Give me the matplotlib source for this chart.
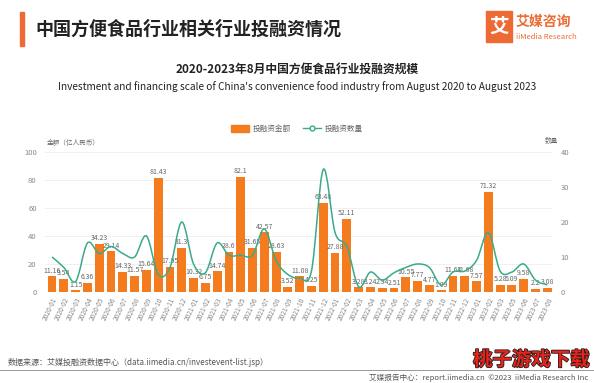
import numpy as np
import matplotlib.pyplot as plt
from matplotlib.path import Path
from matplotlib.patches import PathPatch, Rectangle
from matplotlib.lines import Line2D
import matplotlib.patheffects as pe

plt.rcParams['font.family'] = ['Noto Sans CJK SC', 'DejaVu Sans']

# Data
months = ["2020-01", "2020-02", "2020-03", "2020-04", "2020-05", "2020-06", "2020-07",
          "2020-08", "2020-09", "2020-10", "2020-11", "2020-12", "2021-01", "2021-02",
          "2021-03", "2021-04", "2021-05", "2021-06", "2021-07", "2021-08", "2021-09",
          "2021-10", "2021-11", "2021-12", "2022-01", "2022-02", "2022-03", "2022-04",
          "2022-05", "2022-06", "2022-07", "2022-08", "2022-09", "2022-10", "2022-11",
          "2022-12", "2023-01", "2023-02", "2023-03", "2023-05", "2023-06", "2023-07",
          "2023-08"]
amount = [11.16, 9.54, 1.15, 6.36, 34.23, 29.14, 14.33, 11.57, 15.64, 81.43, 17.95, 31.3,
          10.32, 6.75, 14.74, 28.6, 82.1, 31.65, 42.57, 28.63, 3.52, 11.08, 4.25, 63.48,
          27.88, 52.11, 3.28, 3.24, 2.94, 2.51, 10.55, 7.77, 4.77, 1.09, 11.64, 11.68,
          7.57, 71.32, 5.28, 5.09, 9.58, 2.2, 3.08]
count = [10, 7, 3, 14, 11, 13, 11, 10, 16, 5, 7, 20, 8, 5.5, 14, 10.5, 10.5, 10.5, 18,
         9, 5, 4, 6, 35, 17, 13, 1.5, 5.7, 3.4, 5.5, 7, 8, 7, 2, 5.7, 6, 9, 17, 6, 5.7,
         8, 3.4, 2]

ORANGE = "#F57B1F"
GREEN = "#3AAA8C"
GREY = "#888888"

fig = plt.figure(figsize=(5.94, 3.83), dpi=100)

# Header
fig.add_artist(Rectangle((20 / 594, 1 - 46 / 383), 3.5 / 594, 34 / 383,
                         transform=fig.transFigure, color="#EE6A35"))
fig.text(35 / 594, 1 - 29 / 383, "中国方便食品行业相关行业投融资情况", fontsize=13,
         fontweight="bold", color="#222222", va="center")
fig.add_artist(Rectangle((486 / 594, 1 - 42 / 383), 26 / 594, 31 / 383,
                         transform=fig.transFigure, color="#EE6A35"))
fig.text(499 / 594, 1 - 27 / 383, "艾", fontsize=14, fontweight="bold", color="white",
         ha="center", va="center")
fig.text(516 / 594, 1 - 22 / 383, "艾媒咨询", fontsize=10, fontweight="bold",
         color="#EE6A35", va="center")
fig.text(516 / 594, 1 - 37 / 383, "iiMedia Research", fontsize=5.5, color="#EE6A35",
         va="center")

fig.text(0.5, 1 - 70 / 383, "2020-2023年8月中国方便食品行业投融资规模", fontsize=8.5,
         fontweight="bold", color="#222222", ha="center", va="center")
fig.text(0.5, 1 - 87 / 383,
         "Investment and financing scale of China's convenience food industry from August 2020 to August 2023",
         fontsize=7.3, color="#222222", ha="center", va="center")

# Axes
ax = fig.add_axes([45 / 594, 1 - 292 / 383, 507 / 594, 140 / 383])
x = np.arange(len(months))
ax.bar(x, amount, width=0.75, color=ORANGE, zorder=2)
for xi, v in zip(x, amount):
    ax.text(xi, v + 1.2, f"{v:g}", fontsize=5, color="#666666", ha="center", va="bottom")

ax.set_xlim(-0.6, len(months) - 0.6)
ax.set_ylim(0, 100)
ax.set_yticks(range(0, 101, 20))
ax.grid(axis="y", color="#EEEEEE", linewidth=0.6, zorder=0)
ax.set_xticks(x)
ax.set_xticklabels(months, rotation=65, fontsize=4.8, color=GREY, ha="right",
                   rotation_mode="anchor")
ax.tick_params(axis="y", labelsize=5.5, labelcolor=GREY, length=0, pad=6)
ax.tick_params(axis="x", length=0, pad=3)
for s in ax.spines.values():
    s.set_visible(False)
ax.text(0.004, 1.035, "金额（亿人民币）", transform=ax.transAxes, fontsize=4.8,
        color="#666666", va="bottom")

ax2 = ax.twinx()
ax2.set_ylim(0, 40)
ax2.set_yticks(range(0, 41, 10))
ax2.tick_params(axis="y", labelsize=5.5, labelcolor=GREY, length=0, pad=6)
for s in ax2.spines.values():
    s.set_visible(False)
ax2.text(0.985, 1.05, "数量", transform=ax2.transAxes, fontsize=4.8,
         color="#666666", va="bottom")

# smooth line through the count points (cubic bezier segments)
pts = np.column_stack([x, count]).astype(float)
tang = np.zeros_like(pts)
tang[1:-1] = (pts[2:] - pts[:-2]) / 2
tang[0] = pts[1] - pts[0]
tang[-1] = pts[-1] - pts[-2]
verts = [tuple(pts[0])]
codes = [Path.MOVETO]
for i in range(len(pts) - 1):
    verts += [tuple(pts[i] + tang[i] / 3), tuple(pts[i + 1] - tang[i + 1] / 3),
              tuple(pts[i + 1])]
    codes += [Path.CURVE4] * 3
ax2.add_patch(PathPatch(Path(verts, codes), fill=False, edgecolor=GREEN,
                        linewidth=1.1, zorder=3))

# Legend
handles = [Rectangle((0, 0), 1, 1, color=ORANGE),
           Line2D([0], [0], color=GREEN, marker="o", markerfacecolor="white",
                  markersize=3.5, linewidth=1)]
fig.legend(handles, ["投融资金额", "投融资数量"], loc="center",
           bbox_to_anchor=(0.5, 1 - 129 / 383), ncol=2, frameon=False,
           fontsize=5.5, labelcolor="#666666", handlelength=2.4, handleheight=0.9,
           columnspacing=1.5, handletextpad=0.5)

# Footer
fig.text(8 / 594, 1 - 362 / 383,
         "数据来源：艾媒投融资数据中心（data.iimedia.cn/investevent-list.jsp）",
         fontsize=5.8, color="#555555", va="center")
fig.add_artist(Line2D([0, 1], [1 - 370 / 383, 1 - 370 / 383],
                      transform=fig.transFigure, color="#888888", linewidth=0.6))
fig.text(588 / 594, 1 - 378 / 383,
         "艾媒报告中心：report.iimedia.cn  ©2023  iiMedia Research Inc",
         fontsize=5.5, color="#555555", ha="right", va="center")
fig.text(590 / 594, 1 - 360 / 383, "桃子游戏下载", fontsize=14, fontweight="bold",
         color="#E8231A", ha="right", va="center",
         path_effects=[pe.withStroke(linewidth=1.2, foreground="#222222")])

fig.savefig("out.png", dpi=100)
